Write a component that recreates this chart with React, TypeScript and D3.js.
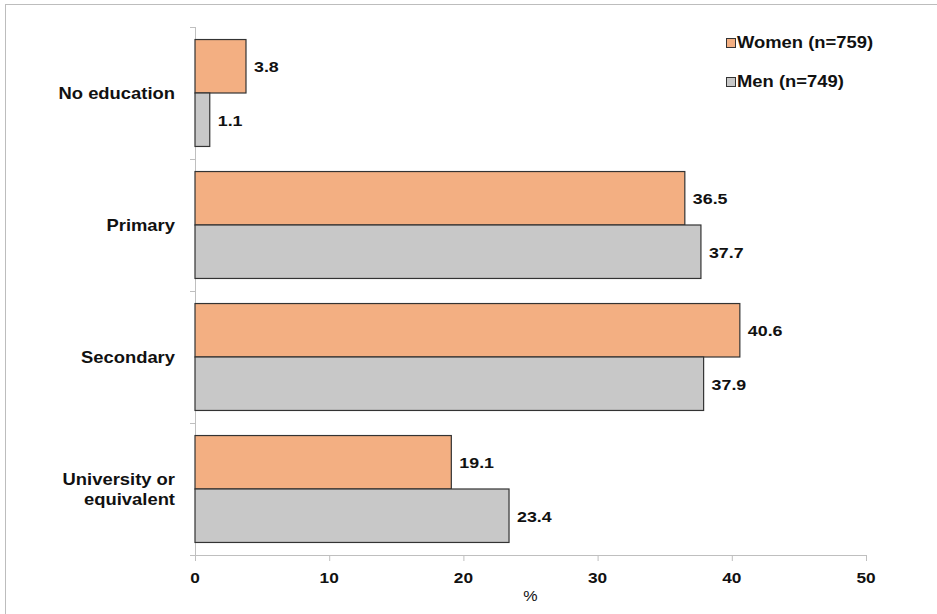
import React from "react";
import * as d3 from "d3";

const categories = ["No education", "Primary", "Secondary", "University or equivalent"];
const categoryLines = [["No education"], ["Primary"], ["Secondary"], ["University or", "equivalent"]];
const seriesNames = ["Women (n=759)", "Men (n=749)"];
const women = [3.8, 36.5, 40.6, 19.1];
const men = [1.1, 37.7, 37.9, 23.4];
const xTicks = [0, 10, 20, 30, 40, 50];
const colors = ["#F3AF82", "#C8C8C8"];

const W = 937;
const H = 614;
const left = 195;
const right = 866;
const top = 27;
const bottom = 555;
const font = "'Liberation Sans', Arial, sans-serif";
const SX = 1.15;

function T(props: { x: number; y: number; size: number; bold?: boolean; anchor?: string; children: any }) {
  return (
    <text
      transform={`translate(${props.x},${props.y}) scale(${SX},1)`}
      textAnchor={props.anchor || "start"}
      fontSize={props.size}
      fontWeight={props.bold === false ? "normal" : "bold"}
      fill="#111"
    >
      {props.children}
    </text>
  );
}

export default function App() {
  const x = d3.scaleLinear().domain([0, 50]).range([left, right]);
  const y = d3.scaleBand<string>().domain(categories).range([top, bottom]).paddingInner(0.19).paddingOuter(0.095);
  const sub = d3.scaleBand<number>().domain([0, 1]).range([0, y.bandwidth()]);
  const series = [women, men];
  const step = y.step();
  return (
    <svg width={W} height={H} style={{ position: "absolute", left: 0, top: 0 }} fontFamily={font}>
      <rect x={0} y={0} width={W} height={H} fill="#fff" />
      <rect x={5.5} y={4.5} width={W + 20} height={H + 20} fill="none" stroke="#BDBDBD" />
      {/* y axis */}
      <line x1={left + 0.5} x2={left + 0.5} y1={top} y2={bottom} stroke="#BFBFBF" />
      {d3.range(categories.length + 1).map((i) => (
        <line key={i} x1={left - 5} x2={left} y1={top + i * step + 0.5} y2={top + i * step + 0.5} stroke="#BFBFBF" />
      ))}
      {/* x axis */}
      <line x1={left} x2={right} y1={bottom + 0.5} y2={bottom + 0.5} stroke="#BFBFBF" />
      {xTicks.map((t) => (
        <g key={t}>
          <line x1={x(t) + 0.5} x2={x(t) + 0.5} y1={bottom} y2={bottom + 6} stroke="#BFBFBF" />
          <T x={x(t)} y={bottom + 28} size={15} anchor="middle">{t}</T>
        </g>
      ))}
      <T x={(left + right) / 2} y={bottom + 46} size={14} anchor="middle" bold={false}>%</T>
      {/* bars */}
      {categories.map((c, i) => (
        <g key={c}>
          {series.map((s, k) => {
            const yy = (y(c) as number) + (sub(k) as number);
            return (
              <g key={k}>
                <rect x={x(0)} y={yy} width={x(s[i]) - x(0)} height={sub.bandwidth()} fill={colors[k]} stroke="#333" strokeWidth={1.2} />
                <T x={x(s[i]) + 8} y={yy + sub.bandwidth() / 2 + 6} size={15.5}>{s[i].toFixed(1)}</T>
              </g>
            );
          })}
          {categoryLines[i].map((ln, j) => (
            <T key={j} x={175} y={(y(c) as number) + y.bandwidth() / 2 + 6 + (j - (categoryLines[i].length - 1) / 2) * 20} size={16} anchor="end">{ln}</T>
          ))}
        </g>
      ))}
      {/* legend */}
      {seriesNames.map((n, k) => (
        <g key={n}>
          <rect x={726.5} y={38.5 + k * 39} width={9} height={9} fill={colors[k]} stroke="#333" />
          <T x={737} y={48 + k * 39} size={16}>{n}</T>
        </g>
      ))}
    </svg>
  );
}
